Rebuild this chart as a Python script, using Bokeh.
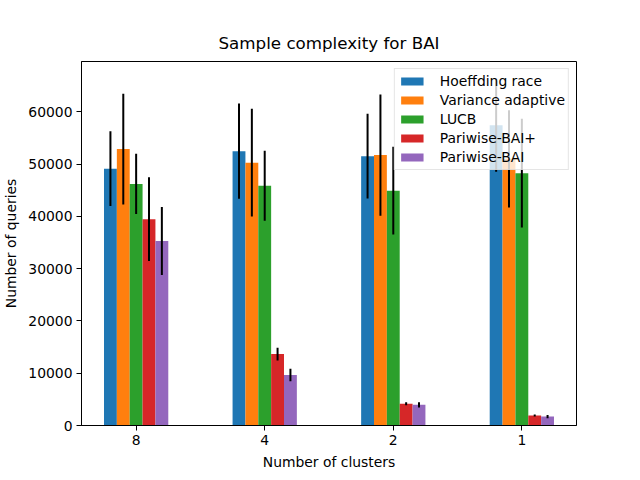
from bokeh.plotting import figure
from bokeh.models import Range1d, FixedTicker, ColumnDataSource
from bokeh.embed import file_html
from bokeh.resources import INLINE

clusters = ["8", "4", "2", "1"]
series = ["Hoeffding race", "Variance adaptive", "LUCB", "Pariwise-BAI+", "Pariwise-BAI"]
colors = ["#1f77b4", "#ff7f0e", "#2ca02c", "#d62728", "#9467bd"]

hoeffding = [49100, 52450, 51500, 57400]
hoeffding_err = [7150, 9100, 8100, 8900]
variance = [52850, 50250, 51700, 51000]
variance_err = [10600, 10300, 11600, 9300]
lucb = [46200, 45850, 44900, 48250]
lucb_err = [5750, 6700, 8400, 10400]
pairplus = [39450, 13650, 4150, 1900]
pairplus_err = [8000, 1200, 300, 200]
pair = [35300, 9650, 3950, 1700]
pair_err = [6500, 1200, 500, 300]

values = [hoeffding, variance, lucb, pairplus, pair]
errors = [hoeffding_err, variance_err, lucb_err, pairplus_err, pair_err]

width = 0.1
offsets = [-0.2, -0.1, 0.0, 0.1, 0.2]

p = figure(width=624, height=472, output_backend="svg", toolbar_location=None,
           x_range=Range1d(-0.425, 3.425), y_range=Range1d(0, 69600),
           min_border_left=80, min_border_right=48, min_border_top=61, min_border_bottom=42,
           title="Sample complexity for BAI")

base_x = list(range(len(clusters)))
for name, col, vals, errs, off in zip(series, colors, values, errors, offsets):
    xs = [b + off for b in base_x]
    src = ColumnDataSource(dict(x=xs, top=vals,
                                lo=[v - e for v, e in zip(vals, errs)],
                                hi=[v + e for v, e in zip(vals, errs)]))
    p.vbar(x="x", top="top", width=width, bottom=0, source=src, fill_color=col,
           line_color=None, legend_label=name)
    p.segment(x0="x", x1="x", y0="lo", y1="hi", source=src, line_color="black", line_width=2)

p.xaxis.ticker = FixedTicker(ticks=base_x)
p.xaxis.major_label_overrides = {i: c for i, c in enumerate(clusters)}
p.yaxis.ticker = FixedTicker(ticks=[0, 10000, 20000, 30000, 40000, 50000, 60000])
p.xaxis.axis_label = "Number of clusters"
p.yaxis.axis_label = "Number of queries"

for ax in (p.xaxis, p.yaxis):
    ax.axis_label_text_font = "DejaVu Sans"
    ax.axis_label_text_font_style = "normal"
    ax.axis_label_text_font_size = "13.9px"
    ax.major_label_text_font = "DejaVu Sans"
    ax.major_label_text_font_size = "13.9px"
    ax.major_label_text_color = "black"
    ax.axis_label_text_color = "black"
    ax.minor_tick_line_color = None
    ax.major_tick_in = 0
    ax.major_tick_out = 5
    ax.major_tick_line_color = "black"
    ax.axis_line_color = "black"
    ax.major_label_standoff = 4
p.xaxis.axis_label_standoff = 6
p.yaxis.axis_label_standoff = 6

p.xgrid.visible = False
p.ygrid.visible = False
p.outline_line_color = "black"
p.outline_line_width = 1
p.outline_line_alpha = 1

p.title.align = "center"
p.title.standoff = 18
p.title.text_font = "DejaVu Sans"
p.title.text_font_style = "normal"
p.title.text_font_size = "16.7px"
p.title.text_color = "black"

lg = p.legend[0]
lg.location = "top_right"
lg.margin = 7
lg.padding = 3
lg.spacing = 1
lg.glyph_width = 28
lg.glyph_height = 10
lg.label_height = 18
lg.label_standoff = 14
lg.label_text_font = "DejaVu Sans"
lg.label_text_font_size = "13.9px"
lg.label_text_line_height = 1.0
lg.label_text_color = "black"
lg.background_fill_alpha = 0.8
lg.border_line_color = "#cccccc"
lg.border_line_width = 1

open("out.html", "w").write(file_html(p, INLINE))
